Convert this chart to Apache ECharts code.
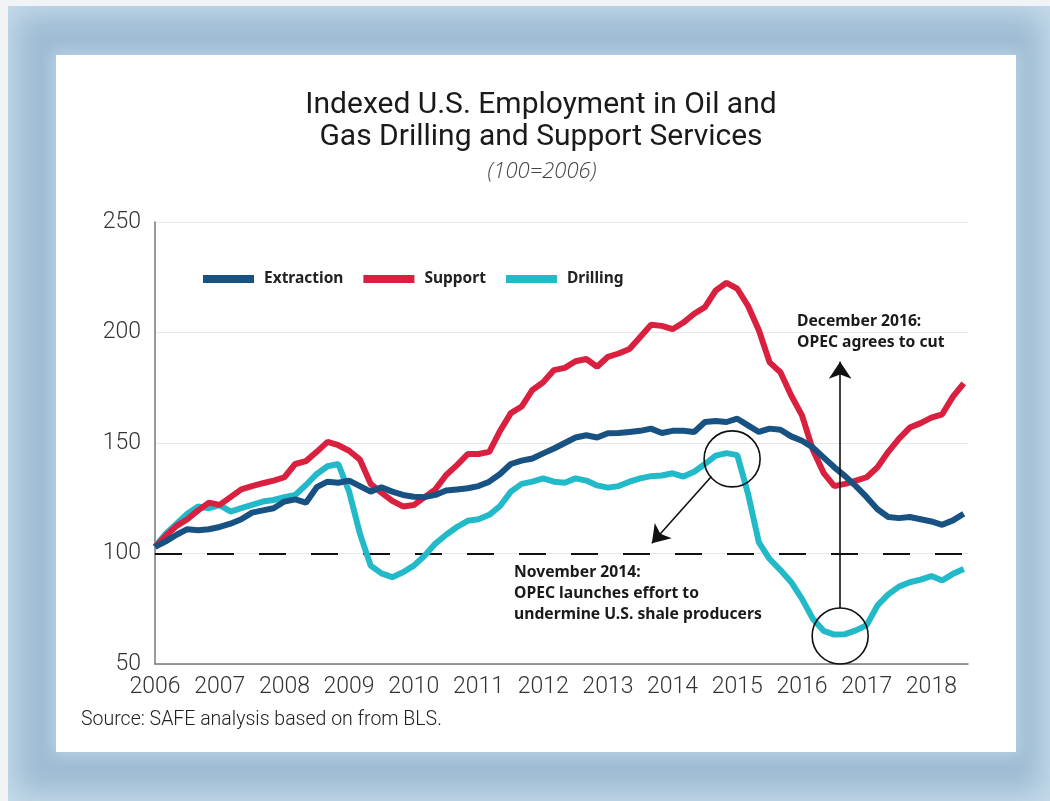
<!DOCTYPE html>
<html><head><meta charset="utf-8">
<script src="https://cdn.jsdelivr.net/npm/echarts@6/dist/echarts.min.js"></script>
<style>
html,body{margin:0;padding:0;background:#f2f3f5;width:1050px;height:801px;overflow:hidden;}
#frame{position:absolute;left:8px;top:6px;width:1042px;height:795px;background:#9ebcd3;box-shadow:inset 0 0 28px 8px rgba(205,225,238,0.85);}
#panel{position:absolute;left:56px;top:55px;width:960px;height:697px;background:#fff;box-shadow:0 0 14px 4px rgba(190,215,232,0.8);}
#chart{position:absolute;left:0;top:0;width:1050px;height:801px;}
</style></head>
<body>
<div id="frame"></div><div id="panel"></div><div id="chart"></div>
<script>
// ---- data ----
const dates = ['2006-01','2006-03','2006-05','2006-07','2006-09','2006-11',
'2007-01','2007-03','2007-05','2007-07','2007-09','2007-11',
'2008-01','2008-03','2008-05','2008-07','2008-09','2008-11',
'2009-01','2009-03','2009-05','2009-07','2009-09','2009-11',
'2010-01','2010-03','2010-05','2010-07','2010-09','2010-11',
'2011-01','2011-03','2011-05','2011-07','2011-09','2011-11',
'2012-01','2012-03','2012-05','2012-07','2012-09','2012-11',
'2013-01','2013-03','2013-05','2013-07','2013-09','2013-11',
'2014-01','2014-03','2014-05','2014-07','2014-09','2014-11',
'2015-01','2015-03','2015-05','2015-07','2015-09','2015-11',
'2016-01','2016-03','2016-05','2016-07','2016-09','2016-11',
'2017-01','2017-03','2017-05','2017-07','2017-09','2017-11',
'2018-01','2018-03','2018-05','2018-07'];

const extraction = [103,105.5,108.5,111,110.5,111,
112,113.5,115.5,118.5,119.5,120.5,
123.5,124.5,123,130,132.5,132,
133,130.5,128,130,128,126.5,
125.7,125.5,126.5,128.5,129,129.5,
130.5,132.5,136,140.5,142,143,
145.3,147.5,150,152.5,153.5,152.5,
154.4,154.5,155,155.5,156.5,154.5,
155.5,155.5,155,159.5,160,159.5,
161,158,155,156.5,156,153,
151,148,143.5,139,135,130.5,
125.5,120,116.5,116,116.5,115.5,
114.5,113,115,118];

const support = [103,108,112.5,115.5,119.5,123,
122,125.5,129,130.5,131.8,133,
134.5,140.5,141.8,146,150.5,149,
146.5,142.5,131.5,127.5,123.8,121.3,
121.9,125.5,129,135.5,140,145,
145,146,155.5,163.5,166.5,174,
177.5,183,184,187,188,184.5,
189,190.5,192.5,198,203.5,203,
201.5,204.5,208.5,211.5,219,222.5,
219.8,212,201,186.5,182,171.5,
162.5,147,136.5,130.5,131.5,133,
134.5,139,146,152,157,159,
161.5,163,171,177];

const drilling = [103,109,113.5,118,121.3,120.5,
121.9,119,120.5,122,123.5,124.2,
125.5,126.5,131,136,139.5,140.5,
128,109,94.5,91,89.3,91.5,
94.5,99,104.5,108.5,112,114.8,
115.5,117.5,121.5,128,131.5,132.5,
134,132.5,132,134,133,130.8,
129.8,130.5,132.5,134,135,135.3,
136.3,134.8,137,140.5,144.3,145.4,
144.5,127,105,97.5,92.5,87,
79.5,70.5,65,63.3,63.5,65.2,
67.6,76.5,81.5,85,87,88.2,
89.8,87.8,90.8,93];

const yTicks = [50, 100, 150, 200, 250];
const baseline = 100;
const circles = [[2014.92, 142.8], [2016.59, 62.7]];
const arrowNov = [[2014.60, 134.8], [2013.68, 104.6]];
const arrowDec = [[2016.59, 75.3], [2016.59, 186.8]];

const toYear = s => +s.slice(0, 4) + (+s.slice(5, 7) - 1) / 12;
const pairs = vals => dates.map((d, i) => [toYear(d), vals[i]]);

const chart = echarts.init(document.getElementById('chart'), null, {renderer: 'canvas'});
const labelFont = 'Roboto';
const boldFont = 'Noto Sans';

chart.setOption({
  backgroundColor: 'transparent',
  animation: false,
  title: [
    {text: 'Indexed U.S. Employment in Oil and\nGas Drilling and Support Services', left: 536, top: 84, textAlign: 'center',
     textStyle: {fontFamily: 'Roboto', fontWeight: 'normal', fontSize: 30, lineHeight: 32, color: '#1a1a1a'}},
    {text: '(100=2006)', left: 537, top: 156, textAlign: 'center',
     textStyle: {fontFamily: 'Open Sans', fontStyle: 'italic', fontWeight: 300, fontSize: 22, color: '#444'}}
  ],
  legend: {
    data: ['Extraction', 'Support', 'Drilling'], left: 203, top: 271, padding: 0, icon: 'rect',
    itemWidth: 51, itemHeight: 8, itemGap: 20,
    textStyle: {fontFamily: boldFont, fontWeight: 'bold', fontSize: 15.5, color: '#222', padding: [0, 0, 0, 5]}
  },
  grid: {left: 155, right: 82, top: 222, bottom: 137},
  xAxis: {
    type: 'value', min: 2006, max: 2018.566, interval: 1,
    axisLine: {show: true, lineStyle: {color: '#777', width: 1.5}},
    axisTick: {show: false}, splitLine: {show: false},
    axisLabel: {fontFamily: labelFont, fontWeight: 300, fontSize: 23, color: '#333', margin: 12, showMaxLabel: false,
      formatter: v => Number.isInteger(v) ? String(v) : ''}
  },
  yAxis: {
    type: 'value', min: yTicks[0], max: yTicks[yTicks.length - 1], interval: 50,
    axisLine: {show: true, lineStyle: {color: '#777', width: 1.5}},
    axisTick: {show: false},
    splitLine: {lineStyle: {color: '#e8e8e8', width: 1}},
    axisLabel: {fontFamily: labelFont, fontWeight: 300, fontSize: 23, color: '#333', margin: 14}
  },
  graphic: [
    {type: 'text', left: 514, top: 562, style: {text: 'November 2014:\nOPEC launches effort to\nundermine U.S. shale producers',
      font: 'bold 15.7px "Noto Sans"', fill: '#1a1a1a', lineHeight: 21}},
    {type: 'text', left: 797, top: 311, style: {text: 'December 2016:\nOPEC agrees to cut',
      font: 'bold 15.7px "Noto Sans"', fill: '#1a1a1a', lineHeight: 21}},
    {type: 'text', left: 81, top: 710, style: {text: 'Source: SAFE analysis based on from BLS.',
      font: '300 19.5px Roboto', fill: '#222'}}
  ],
  series: [
    {name: 'Extraction', type: 'line', z: 4, data: pairs(extraction), showSymbol: false, symbol: 'none',
     lineStyle: {color: '#175282', width: 6}, itemStyle: {color: '#175282'}},
    {name: 'Support', type: 'line', z: 3, data: pairs(support), showSymbol: false, symbol: 'none',
     lineStyle: {color: '#d9203f', width: 6}, itemStyle: {color: '#d9203f'}},
    {name: 'Drilling', type: 'line', z: 2, data: pairs(drilling), showSymbol: false, symbol: 'none',
     lineStyle: {color: '#22b9c9', width: 6}, itemStyle: {color: '#22b9c9'},
     markLine: {silent: true, symbol: ['none', 'none'], label: {show: false}, z: 1,
       lineStyle: {color: '#111', width: 2, type: [27, 25]},
       data: [{yAxis: baseline}]}},
    {name: 'annot', type: 'line', z: 6, data: [], silent: true,
     markPoint: {symbol: 'circle', symbolSize: 56, label: {show: false},
       itemStyle: {color: 'rgba(0,0,0,0)', borderColor: '#111', borderWidth: 1.6},
       data: circles.map(c => ({coord: c}))},
     markLine: {symbol: ['none', 'arrow'], symbolSize: 17, label: {show: false},
       lineStyle: {color: '#111', width: 1.6, type: 'solid'},
       data: [[{coord: arrowNov[0]}, {coord: arrowNov[1]}], [{coord: arrowDec[0]}, {coord: arrowDec[1]}]]}}
  ]
});
</script>
</body></html>
